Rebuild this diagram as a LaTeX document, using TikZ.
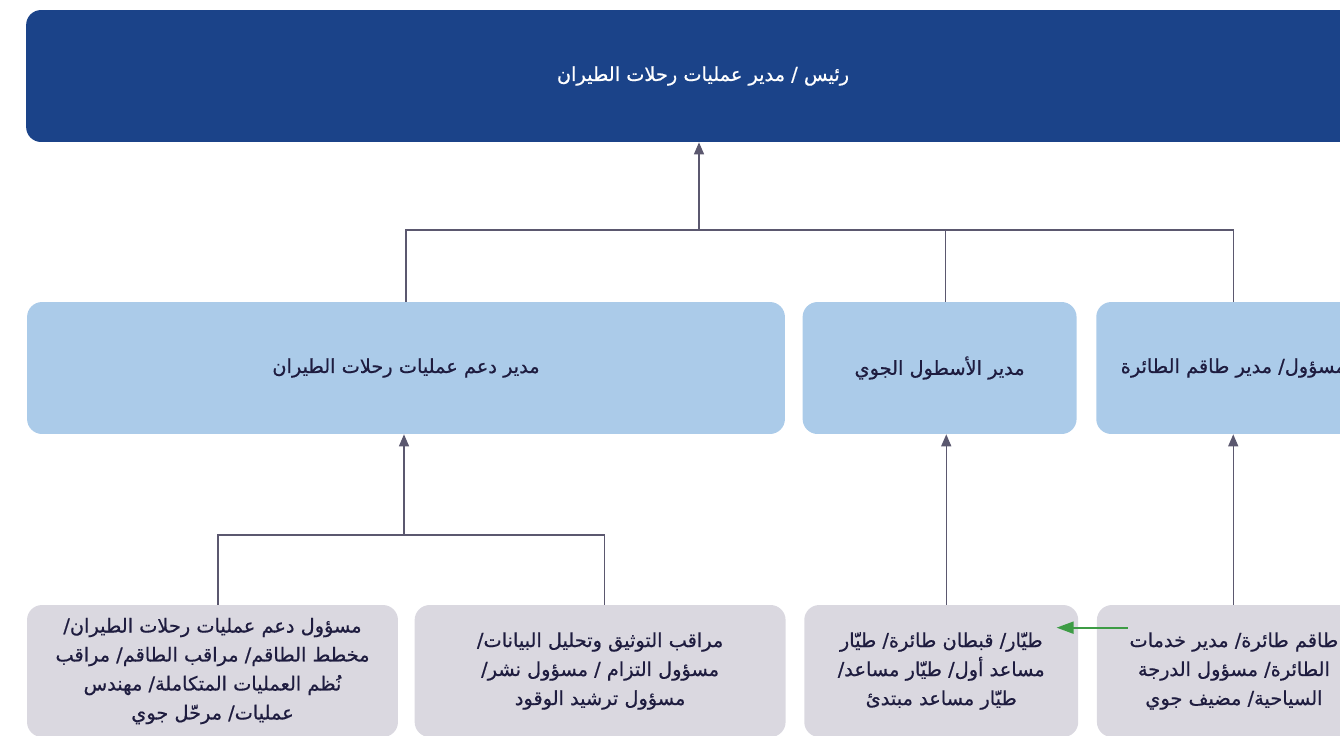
\documentclass[tikz,border=0pt]{standalone}
\usepackage{fontspec}
\usepackage[svgnames]{xcolor}
\usepackage{tikz}
\usetikzlibrary{positioning, arrows.meta, calc}
\TeXXeTstate=1
\newfontfamily\arabicfont[Script=Arabic, FakeBold=0.6]{DejaVu Sans}
\newcommand{\rtl}[1]{\beginR #1\endR}
\definecolor{chiefblue}{HTML}{1B4389}
\definecolor{midblue}{HTML}{ABCBE9}
\definecolor{lowgray}{HTML}{DAD8E0}
\definecolor{linegray}{HTML}{5B586F}
\definecolor{inkblue}{HTML}{1E1C3F}
\definecolor{arrowgreen}{HTML}{3D9C45}
\tikzset{
    x=0.02cm, y=-0.02cm, % one unit is one pixel of the sketch
    every node/.style={ % Sets the text of each box
        font=\arabicfont\fontsize{11}{16.5}\selectfont,
        align=center,
        text=inkblue
    },
    box/.style={ % Shared look of all boxes
        rounded corners=0.3cm,
        minimum height=2.64cm,
        inner sep=0pt
    },
    topbox/.style={box, fill=chiefblue, text=white, minimum width=27.08cm},
    midbox/.style={box, fill=midblue, minimum width=5.48cm},
    lowbox/.style={box, fill=lowgray, minimum width=5.48cm},
    wire/.style={draw=linegray, line width=0.8pt},
    up/.style={wire, -{Triangle[length=0.24cm, width=0.2cm]}},
    hint/.style={draw=arrowgreen, line width=1.1pt, -{Triangle[length=0.34cm, width=0.24cm]}}
}
\begin{document}
\begin{tikzpicture}
    \useasboundingbox (0,0) rectangle (1340,735);
    \clip (0,0) rectangle (1340,735);
    % top level
    \node[topbox] (chief) at (703,76) {\rtl{رئيس / مدير عمليات رحلات الطيران}};
    % second level
    \node[midbox, minimum width=15.16cm] (support) at (406,368) {\rtl{مدير دعم عمليات رحلات الطيران}};
    \node[midbox, right=0.34cm of support] (fleet) {\rtl{مدير الأسطول الجوي}};
    \node[midbox, right=0.38cm of fleet]   (crew)  {\rtl{مسؤول/ مدير طاقم الطائرة}};
    % third level
    \node[lowbox, minimum width=7.42cm] (supofficer) at (212.5,671)
        {\rtl{مسؤول دعم عمليات رحلات الطيران/}\\ \rtl{مخطط الطاقم/ مراقب الطاقم/ مراقب}\\
         \rtl{نُظم العمليات المتكاملة/ مهندس}\\ \rtl{عمليات/ مرحّل جوي}};
    \node[lowbox, minimum width=7.42cm, right=0.32cm of supofficer] (docctrl)
        {\rtl{مراقب التوثيق وتحليل البيانات/}\\ \rtl{مسؤول التزام / مسؤول نشر/}\\ \rtl{مسؤول ترشيد الوقود}};
    \node[lowbox, right=0.36cm of docctrl] (pilots)
        {\rtl{طيّار/ قبطان طائرة/ طيّار}\\ \rtl{مساعد أول/ طيّار مساعد/}\\ \rtl{طيّار مساعد مبتدئ}};
    \node[lowbox, right=0.36cm of pilots] (cabin)
        {\rtl{طاقم طائرة/ مدير خدمات}\\ \rtl{الطائرة/ مسؤول الدرجة}\\ \rtl{السياحية/ مضيف جوي}};
    % junctions
    \coordinate (bus1) at (699,230);
    \coordinate (bus2) at (404,535);
    \coordinate (ftop) at ([xshift=0.12cm]fleet.north);
    \coordinate (stop) at ([xshift=0.11cm]supofficer.north);
    \coordinate (dtop) at ([xshift=0.09cm]docctrl.north);
    \coordinate (ptop) at ([xshift=0.1cm]pilots.north);
    \coordinate (gfrom) at ([xshift=0.62cm, yshift=-0.46cm]cabin.north west);
    \coordinate (gto) at ([xshift=-0.44cm, yshift=-0.46cm]pilots.north east);
    % connectors
    \draw[wire] (support.north) |- (crew.north |- bus1) -- (crew.north)
                (ftop) -- (ftop |- bus1);
    \draw[up] (bus1) -- (chief.south -| bus1);
    \draw[wire] (stop) |- (dtop |- bus2) -- (dtop);
    \draw[up] (bus2) -- (support.south -| bus2);
    \draw[up] (ptop) -- (ptop |- fleet.south);
    \draw[up] (crew.north |- cabin.north) -- (crew.south);
    \draw[hint] (gfrom) -- (gto);
\end{tikzpicture}
\end{document}
